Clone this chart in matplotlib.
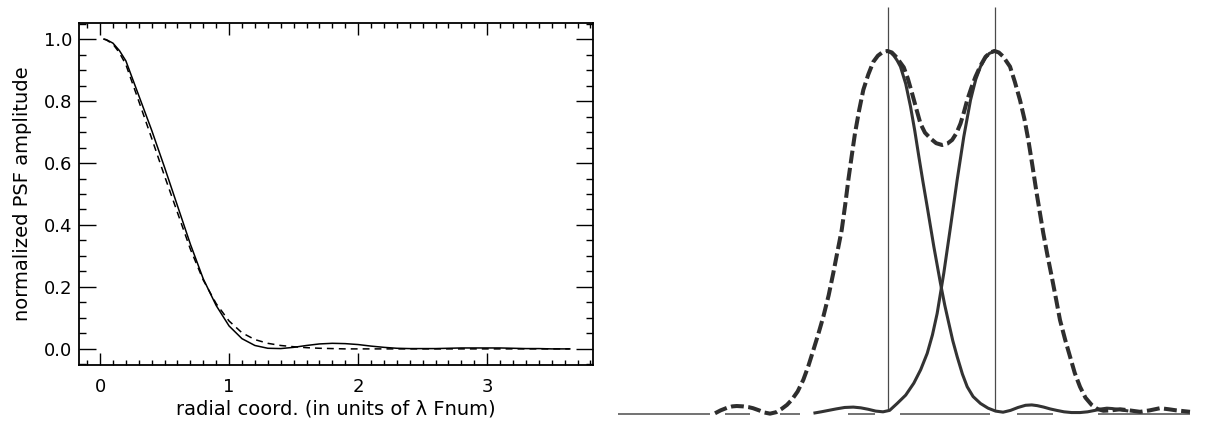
import numpy as np
import matplotlib.pyplot as plt
from matplotlib.ticker import MultipleLocator, FormatStrFormatter

# left panel: radial PSF profiles
r_solid = [0.03, 0.05, 0.10, 0.15, 0.20, 0.30, 0.40, 0.50, 0.60, 0.70, 0.80,
           0.90, 1.00, 1.10, 1.20, 1.30, 1.40, 1.50, 1.60, 1.70, 1.80, 1.90,
           2.00, 2.10, 2.20, 2.30, 2.40, 2.50, 2.60, 2.70, 2.80, 2.90, 3.00,
           3.10, 3.20, 3.30, 3.40, 3.50, 3.64]
psf_solid = [1.000, 0.998, 0.987, 0.963, 0.930, 0.818, 0.706, 0.586, 0.462,
             0.338, 0.226, 0.140, 0.074, 0.033, 0.011, 0.002, 0.001, 0.005,
             0.011, 0.016, 0.018, 0.017, 0.014, 0.009, 0.005, 0.002, 0.001,
             0.001, 0.001, 0.002, 0.003, 0.003, 0.003, 0.003, 0.002, 0.001,
             0.001, 0.000, 0.000]
r_dash = [0.03, 0.05, 0.10, 0.15, 0.20, 0.30, 0.40, 0.50, 0.60, 0.70, 0.80,
          0.90, 1.00, 1.10, 1.20, 1.30, 1.40, 1.50, 1.60, 1.70, 1.80, 1.90,
          3.64]
psf_dash = [1.000, 0.997, 0.984, 0.956, 0.918, 0.800, 0.680, 0.558, 0.440,
            0.322, 0.222, 0.146, 0.090, 0.052, 0.030, 0.018, 0.011, 0.007,
            0.004, 0.002, 0.001, 0.000, 0.000]

# right panel: two PSFs at the Rayleigh separation and their sum
# x in units of the separation (left peak at 0), y normalized to the peak
x_left = [0.00, 0.03, 0.06, 0.09, 0.121, 0.17, 0.215, 0.255, 0.293, 0.33,
          0.371, 0.433, 0.495, 0.535, 0.573, 0.61, 0.651, 0.70, 0.745, 0.80,
          0.869, 0.94, 1.01, 1.08, 1.15, 1.22, 1.29, 1.348, 1.40, 1.46, 1.52,
          1.581, 1.65, 1.72, 1.80, 1.87, 1.94, 2.00, 2.05, 2.10, 2.17, 2.236]
y_left = [1.000, 0.996, 0.987, 0.974, 0.957, 0.910, 0.847, 0.780, 0.709,
          0.642, 0.571, 0.461, 0.360, 0.300, 0.250, 0.202, 0.158, 0.110,
          0.075, 0.048, 0.029, 0.016, 0.008, 0.005, 0.010, 0.018, 0.024,
          0.025, 0.023, 0.019, 0.014, 0.010, 0.006, 0.004, 0.004, 0.006,
          0.010, 0.014, 0.016, 0.015, 0.012, 0.009]
x_right = [-0.678, -0.62, -0.55, -0.48, -0.40, -0.32, -0.25, -0.18, -0.11,
           -0.042, 0.02, 0.09, 0.17, 0.246, 0.31, 0.371, 0.42, 0.464, 0.526,
           0.589, 0.651, 0.713, 0.776, 0.825, 0.869, 0.91, 0.95, 1.00]
y_right = [0.003, 0.006, 0.010, 0.014, 0.018, 0.019, 0.017, 0.013, 0.008,
           0.006, 0.010, 0.029, 0.052, 0.085, 0.122, 0.167, 0.218, 0.277,
           0.388, 0.516, 0.645, 0.764, 0.865, 0.922, 0.957, 0.979, 0.993,
           1.000]
x_sum = [-1.612, -1.56, -1.50, -1.45, -1.409, -1.35, -1.30, -1.257, -1.20,
         -1.15, -1.098, -1.04, -0.99, -0.94, -0.895, -0.84, -0.787, -0.74,
         -0.693, -0.645, -0.60, -0.55, -0.507, -0.468, -0.428, -0.396,
         -0.366, -0.335, -0.304, -0.265, -0.226, -0.18, -0.133, -0.09,
         -0.045, 0.00, 0.04, 0.08, 0.115, 0.152, 0.19, 0.23, 0.27, 0.308,
         0.35, 0.402, 0.455, 0.511, 0.56, 0.604, 0.645, 0.682, 0.715, 0.745,
         0.785, 0.822, 0.87, 0.916, 0.96, 1.00, 1.04, 1.08, 1.145, 1.19,
         1.238, 1.28, 1.316, 1.355, 1.394, 1.425, 1.456, 1.495, 1.535,
         1.575, 1.612, 1.66, 1.706, 1.75, 1.799, 1.85, 1.908, 1.96, 2.017,
         2.09, 2.173, 2.26, 2.36, 2.45, 2.547, 2.63, 2.70, 2.827]
y_sum = [0.002, 0.010, 0.017, 0.021, 0.022, 0.021, 0.019, 0.016, 0.010,
         0.004, 0.001, 0.005, 0.014, 0.025, 0.039, 0.062, 0.094, 0.132,
         0.176, 0.222, 0.268, 0.327, 0.388, 0.447, 0.507, 0.575, 0.645,
         0.710, 0.773, 0.837, 0.893, 0.935, 0.970, 0.987, 0.997, 1.000,
         0.996, 0.984, 0.970, 0.955, 0.924, 0.883, 0.840, 0.800, 0.775,
         0.759, 0.746, 0.741, 0.745, 0.755, 0.774, 0.800, 0.832, 0.865,
         0.900, 0.929, 0.960, 0.984, 0.996, 1.000, 0.996, 0.985, 0.957,
         0.915, 0.865, 0.812, 0.755, 0.683, 0.608, 0.553, 0.498, 0.437,
         0.378, 0.317, 0.259, 0.205, 0.158, 0.113, 0.075, 0.045, 0.025,
         0.014, 0.009, 0.010, 0.013, 0.010, 0.006, 0.010, 0.016, 0.013,
         0.010, 0.006]
peaks = [0.0, 1.0]
baseline_parts = [(-2.519, -1.659), (-1.519, -1.285), (-1.005, -0.818),
                  (-0.369, -0.117), (0.117, 0.958), (1.21, 1.547),
                  (1.967, 2.827)]

plt.rcParams['font.family'] = ['DejaVu Sans']
fig = plt.figure(figsize=(12.13, 4.25), dpi=100)

# %% left panel
ax = fig.add_axes([79/1213, 1 - 365/425, 514/1213, 342/425])
ax.plot(r_solid, psf_solid, color='black', lw=1.1)
ax.plot(r_dash, psf_dash, color='black', lw=1.1, dashes=(4.5, 3.3))
ax.set_xlim(-0.163, 3.82)
ax.set_ylim(-0.052, 1.052)
ax.xaxis.set_major_locator(MultipleLocator(1))
ax.xaxis.set_minor_locator(MultipleLocator(0.1))
ax.yaxis.set_major_locator(MultipleLocator(0.2))
ax.yaxis.set_minor_locator(MultipleLocator(0.05))
ax.yaxis.set_major_formatter(FormatStrFormatter('%.1f'))
ax.tick_params(which='both', direction='in', top=True, right=True,
               width=1, labelsize=13)
ax.tick_params(axis='x', which='major', length=8.5, pad=9)
ax.tick_params(axis='x', which='minor', length=3.5)
ax.tick_params(axis='y', which='major', length=12, pad=5)
ax.tick_params(axis='y', which='minor', length=5)
for s in ax.spines.values():
    s.set_linewidth(1.3)
ax.set_xlabel('radial coord. (in units of λ Fnum)', fontsize=14)
ax.set_ylabel('normalized PSF amplitude', fontsize=14)
ax.xaxis.set_label_coords(0.5, -0.1)
ax.yaxis.set_label_coords(-0.0914, 0.5)

# %% right panel (reproduction of a printed figure)
ax2 = fig.add_axes([600/1213, 0, 613/1213, 1])
ax2.set_xlim(-2.687, 3.042)
ax2.set_ylim(-0.0303, 1.1405)
ax2.axis('off')
for a, b in baseline_parts:
    ax2.plot([a, b], [0, 0], color='#5a5a5a', lw=1.2, solid_capstyle='butt')
ax2.vlines(peaks, 0.011, 1.121, color='#4a4a4a', lw=0.9)
ax2.plot(x_left, y_left, color='#333333', lw=2.2)
ax2.plot(x_right, y_right, color='#333333', lw=2.2)
ax2.plot(x_sum, y_sum, color='#2e2e2e', lw=2.9, dashes=(3.2, 1.1),
         dash_capstyle='butt')

plt.savefig('out.png', dpi=100)
